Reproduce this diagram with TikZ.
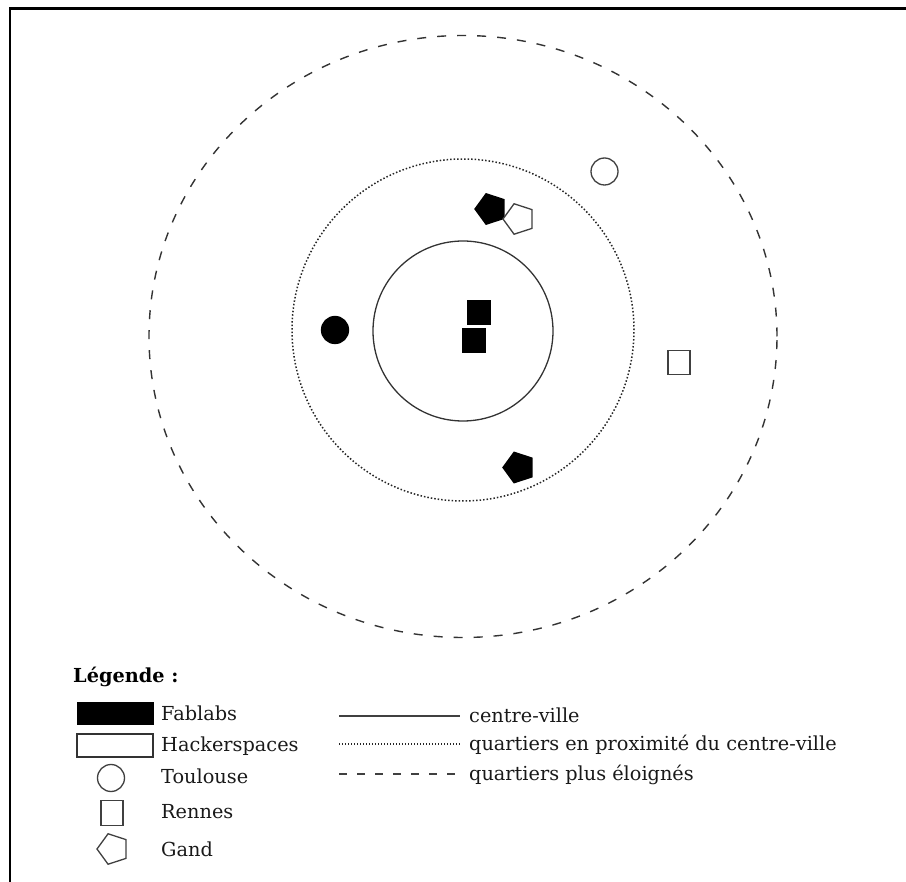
\documentclass[tikz,border=0pt]{standalone}
\usepackage{fontspec}
\setmainfont{DejaVu Serif}
\usetikzlibrary{shapes.geometric}
\begin{document}
\begin{tikzpicture}[x=1pt,y=-1pt,
  lbl/.style={anchor=base west,inner sep=0pt,font=\fontsize{19.3}{23}\selectfont,text=black!90},
  pent/.style={regular polygon,regular polygon sides=5,rotate=90,minimum size=32pt,inner sep=0pt,draw=black!75,line width=1.3pt},
  sq/.style={rectangle,minimum width=22pt,minimum height=24.5pt,inner sep=0pt,draw=black!75,line width=1.3pt},
  dot/.style={circle,minimum size=27pt,inner sep=0pt,draw=black!75,line width=1.3pt},
  fab/.style={fill=black,draw=black},
  hack/.style={fill=white}]
\useasboundingbox (0,0) rectangle (906,882);
% frame
\coordinate (f1) at (10,882);
\coordinate (f2) at (10,8.5);
\coordinate (f3) at (906,8.5);
\draw[line width=2.4pt] (f1) -- (f2) -- (f3);
% zones
\node[ellipse,minimum width=628pt,minimum height=602pt,inner sep=0pt,draw=black!80,line width=1.4pt,dash pattern=on 9pt off 11pt] (zone3) at (463,336.5) {};
\node[circle,minimum size=342pt,inner sep=0pt,draw=black!85,line width=1.5pt,dash pattern=on 1.5pt off 2pt] (zone2) at (463,330) {};
\node[circle,minimum size=180pt,inner sep=0pt,draw=black!80,line width=1.3pt] (zone1) at (463,331) {};
% places
\node[dot,fab] (tf) at (335,330) {};
\node[dot,hack] (th) at (604.5,171.5) {};
\node[sq,fab] (rf1) at (479,312.5) {};
\node[sq,fab] (rf2) at (474,340.5) {};
\node[sq,hack] (rh) at (679,362.5) {};
\node[pent,fab] (gf1) at (491,209) {};
\node[pent,hack] (gh) at (519,219) {};
\node[pent,fab] (gf2) at (519,467.5) {};
% legend
\node[anchor=base west,inner sep=0pt,font=\bfseries\fontsize{19.3}{23}\selectfont] (leg) at (73,682) {Légende :};
\node[rectangle,minimum width=76pt,minimum height=22pt,inner sep=0pt,fill=black,draw=black] (lfab) at (115,713) {};
\node[rectangle,minimum width=76pt,minimum height=23pt,inner sep=0pt,draw=black!80,line width=2pt] (lhack) at (115,745) {};
\node[dot] (ltou) at (111,778) {};
\node[sq] (lren) at (112,813) {};
\node[pent] (lgan) at (113,849) {};
\node[lbl] (tfab) at (161,720) {Fablabs};
\node[lbl] (thack) at (161,751) {Hackerspaces};
\node[lbl] (ttou) at (161,783) {Toulouse};
\node[lbl] (tren) at (161,818) {Rennes};
\node[lbl] (tgan) at (161,856) {Gand};
\coordinate (s1) at (339,716);
\coordinate (s2) at (460,716);
\coordinate (d1) at (339,744);
\coordinate (d2) at (460,744);
\coordinate (e1) at (339,774);
\coordinate (e2) at (460,774);
\draw[black!75,line width=1.3pt] (s1) -- (s2);
\draw[black!85,line width=1.2pt,dash pattern=on 1.2pt off 1.8pt] (d1) -- (d2);
\draw[black!75,line width=1.2pt,dash pattern=on 8pt off 10pt] (e1) -- (e2);
\node[lbl] (tc1) at (469,722) {centre-ville};
\node[lbl] (tc2) at (469,750.5) {quartiers en proximité du centre-ville};
\node[lbl] (tc3) at (469,780) {quartiers plus éloignés};
\end{tikzpicture}
\end{document}
